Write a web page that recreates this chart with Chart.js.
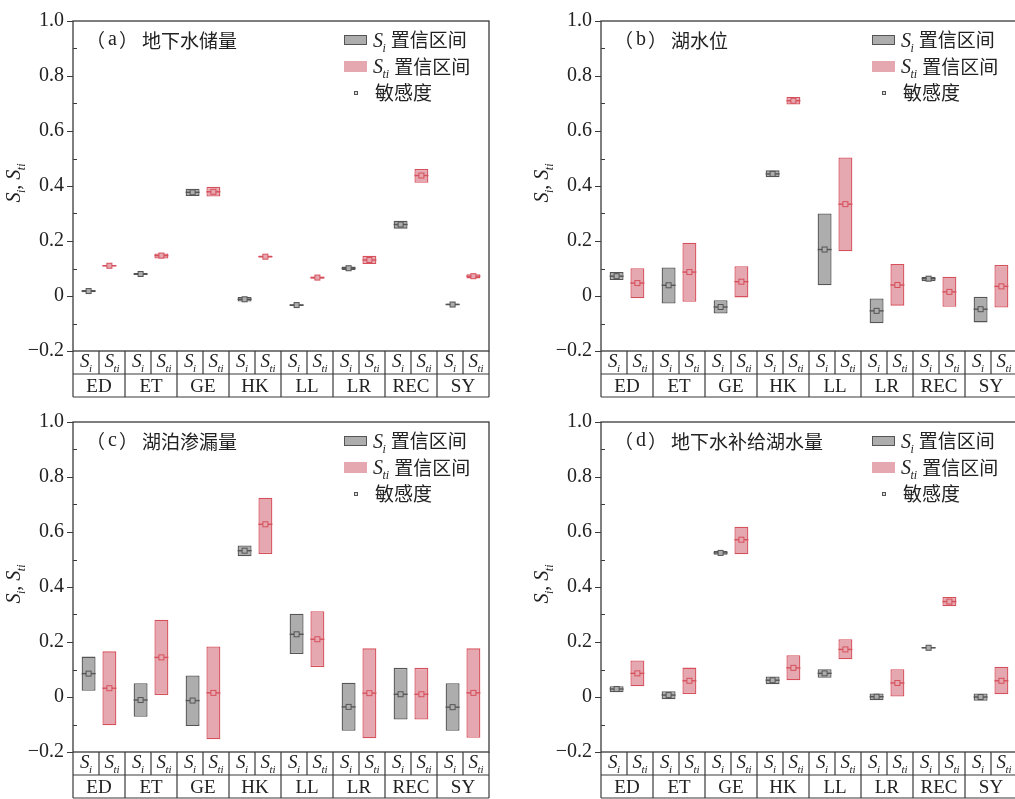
<!DOCTYPE html>
<html><head><meta charset="utf-8">
<script src="https://cdn.jsdelivr.net/npm/chart.js@4"></script>
<style>
html,body{margin:0;padding:0;background:#fff;overflow:hidden;width:1015px;height:799px;position:relative;}
canvas{position:absolute;}
</style></head><body>
<canvas id="ca" width="505" height="399" style="left:0;top:0"></canvas>
<canvas id="cb" width="505" height="399" style="left:528px;top:0"></canvas>
<canvas id="cc" width="505" height="399" style="left:0;top:401px"></canvas>
<canvas id="cd" width="505" height="399" style="left:528px;top:401px"></canvas>
<script>
// ---------------- data ----------------
const categories = ['ED','ET','GE','HK','LL','LR','REC','SY'];
const panelLetters = ['a','b','c','d'];
const panelNames = ['地下水储量','湖水位','湖泊渗漏量','地下水补给湖水量'];
const yMin = -0.2, yMax = 1.0, yStep = 0.1;

// (a) 地下水储量
const aSiLo   = [0.014, 0.076, 0.364, -0.020, -0.036, 0.095, 0.245, -0.034];
const aSiHi   = [0.022, 0.084, 0.390, -0.004, -0.030, 0.107, 0.274, -0.027];
const aSiMean = [0.018, 0.080, 0.377, -0.012, -0.033, 0.101, 0.260, -0.031];
const aStLo   = [0.107, 0.136, 0.362, 0.140, 0.063, 0.116, 0.412, 0.064];
const aStHi   = [0.113, 0.155, 0.397, 0.147, 0.071, 0.146, 0.462, 0.079];
const aStMean = [0.110, 0.147, 0.379, 0.143, 0.067, 0.131, 0.438, 0.072];

// (b) 湖水位
const bSiLo   = [0.058, -0.027, -0.064, 0.432, 0.039, -0.099, 0.054, -0.096];
const bSiHi   = [0.087, 0.104, -0.015, 0.457, 0.300, -0.009, 0.070, -0.003];
const bSiMean = [0.072, 0.039, -0.040, 0.444, 0.169, -0.054, 0.063, -0.048];
const bStLo   = [-0.008, -0.021, -0.005, 0.696, 0.163, -0.035, -0.039, -0.042];
const bStHi   = [0.101, 0.194, 0.108, 0.724, 0.504, 0.116, 0.070, 0.113];
const bStMean = [0.047, 0.087, 0.052, 0.710, 0.334, 0.040, 0.015, 0.035];

// (c) 湖泊渗漏量
const cSiLo   = [0.023, -0.072, -0.105, 0.512, 0.156, -0.123, -0.082, -0.123];
const cSiHi   = [0.147, 0.050, 0.078, 0.551, 0.303, 0.052, 0.106, 0.050];
const cSiMean = [0.085, -0.011, -0.013, 0.532, 0.228, -0.036, 0.010, -0.037];
const cStLo   = [-0.103, 0.007, -0.154, 0.520, 0.109, -0.150, -0.082, -0.148];
const cStHi   = [0.166, 0.281, 0.184, 0.725, 0.312, 0.177, 0.106, 0.177];
const cStMean = [0.032, 0.144, 0.015, 0.628, 0.210, 0.014, 0.010, 0.015];

// (d) 地下水补给湖水量
const dSiLo   = [0.017, -0.008, 0.517, 0.046, 0.070, -0.012, 0.176, -0.014];
const dSiHi   = [0.039, 0.021, 0.531, 0.075, 0.101, 0.013, 0.182, 0.013];
const dSiMean = [0.029, 0.007, 0.524, 0.061, 0.086, 0.001, 0.179, 0.000];
const dStLo   = [0.039, 0.011, 0.519, 0.061, 0.137, 0.002, 0.330, 0.010];
const dStHi   = [0.133, 0.107, 0.619, 0.152, 0.210, 0.101, 0.364, 0.110];
const dStMean = [0.086, 0.059, 0.572, 0.106, 0.173, 0.051, 0.347, 0.059];

// ---------------- style ----------------
const GRAY_FILL = '#adadad', GRAY_LINE = '#555555';
const RED_FILL = '#e6a8b0', RED_LINE = '#d6505c';
const AXIS = '#3a3a3a', TXT = '#222';
const SERIF = "'Liberation Serif', 'Times New Roman', serif";
const CJK = "'Noto Sans CJK SC', 'Noto Sans CJK JP', sans-serif";

function subText(ctx, x, y, base, sub, size, draw) {
  ctx.font = `italic ${size}px ${SERIF}`;
  const w1 = ctx.measureText(base).width;
  if (draw) ctx.fillText(base, x, y);
  const ss = Math.round(size * 0.6);
  ctx.font = `italic ${ss}px ${SERIF}`;
  const w2 = ctx.measureText(sub).width;
  if (draw) ctx.fillText(sub, x + w1 - 0.5, y + size * 0.24);
  return w1 - 0.5 + w2;
}

const decor = {
  id: 'decor',
  afterDatasetsDraw(chart) {
    const ctx = chart.ctx, ys = chart.scales.y;
    ctx.save();
    chart.data.datasets.forEach((ds, d) => {
      const meta = chart.getDatasetMeta(d);
      meta.data.forEach((el, i) => {
        const y = ys.getPixelForValue(ds.means[i]);
        const w = el.width;
        ctx.strokeStyle = ds.borderColor;
        ctx.lineWidth = 1.4;
        ctx.beginPath();
        ctx.moveTo(el.x - w / 2, y); ctx.lineTo(el.x + w / 2, y);
        ctx.stroke();
        ctx.lineWidth = 1;
        ctx.fillStyle = ds.backgroundColor;
        ctx.fillRect(el.x - 2.5, y - 2.5, 5, 5);
        ctx.strokeRect(el.x - 2.5, y - 2.5, 5, 5);
      });
    });
    ctx.restore();
  },
  afterDraw(chart) {
    const ctx = chart.ctx, ca = chart.chartArea, ys = chart.scales.y, xs = chart.scales.x;
    const opt = chart.options.plugins.decor;
    ctx.save();
    // frame
    ctx.strokeStyle = AXIS; ctx.lineWidth = 1.3;
    ctx.strokeRect(ca.left, ca.top, ca.right - ca.left, ca.bottom - ca.top);
    // y ticks
    ctx.lineWidth = 1;
    for (let k = Math.round(yMin / yStep); k <= Math.round(yMax / yStep); k++) {
      const y = Math.round(ys.getPixelForValue(k * yStep)) + 0.5;
      ctx.beginPath();
      if (k % 2 === 0) { ctx.moveTo(ca.left - 6, y); ctx.lineTo(ca.left, y); }
      else { ctx.moveTo(ca.left, y); ctx.lineTo(ca.left + 4, y); }
      ctx.stroke();
    }
    // category table
    const h1 = 23, h2 = 23, b = ca.bottom;
    ctx.lineWidth = 1.2;
    ctx.beginPath();
    ctx.moveTo(ca.left, b + h1); ctx.lineTo(ca.right, b + h1);
    ctx.moveTo(ca.left, b + h1 + h2); ctx.lineTo(ca.right, b + h1 + h2);
    ctx.moveTo(ca.left, b); ctx.lineTo(ca.left, b + h1 + h2);
    ctx.moveTo(ca.right, b); ctx.lineTo(ca.right, b + h1 + h2);
    const gw = (ca.right - ca.left) / categories.length;
    categories.forEach((c, i) => {
      const cx = xs.getPixelForValue(i);
      if (i > 0) { ctx.moveTo(cx - gw / 2, b); ctx.lineTo(cx - gw / 2, b + h1 + h2); }
      ctx.moveTo(cx, b); ctx.lineTo(cx, b + h1);
    });
    ctx.stroke();
    ctx.fillStyle = TXT;
    ctx.textBaseline = 'alphabetic';
    ctx.textAlign = 'left';
    categories.forEach((c, i) => {
      const cx = xs.getPixelForValue(i);
      [['i', cx - gw / 4], ['ti', cx + gw / 4]].forEach(([s, px]) => {
        const w = subText(ctx, 0, 0, 'S', s, 19, false);
        subText(ctx, px - w / 2, b + 16, 'S', s, 19, true);
      });
      ctx.font = `19px ${SERIF}`;
      ctx.textAlign = 'center';
      ctx.fillText(c, cx, b + h1 + 18);
      ctx.textAlign = 'left';
    });
    // y title (rotated)
    ctx.save();
    ctx.translate(ca.left - 53, (ca.top + ca.bottom) / 2 - 3);
    ctx.rotate(-Math.PI / 2);
    let tw = subText(ctx, 0, 0, 'S', 'i', 20, false);
    ctx.font = `italic 20px ${SERIF}`;
    const cw = ctx.measureText(', ').width;
    tw += cw + subText(ctx, 0, 0, 'S', 'ti', 20, false);
    let x0 = -tw / 2;
    x0 += subText(ctx, x0, 0, 'S', 'i', 20, true);
    ctx.font = `20px ${SERIF}`;
    ctx.fillText(',', x0, 0);
    x0 += cw;
    subText(ctx, x0, 0, 'S', 'ti', 20, true);
    ctx.restore();
    // panel title
    const L = ca.left, T = ca.top;
    ctx.textBaseline = 'middle';
    ctx.font = `19px ${CJK}`;
    let tx = L + 13;
    ctx.fillText('（', tx, T + 20); tx += ctx.measureText('（').width + 3;
    ctx.font = `20px ${SERIF}`;
    ctx.fillText(opt.letter, tx, T + 19); tx += ctx.measureText(opt.letter).width + 2;
    ctx.font = `19px ${CJK}`;
    ctx.fillText('）', tx, T + 20); tx += ctx.measureText('）').width + 4;
    ctx.fillText(opt.name, tx, T + 20);
    // legend
    const sx = L + 271;
    ctx.lineWidth = 1;
    ctx.fillStyle = GRAY_FILL; ctx.strokeStyle = GRAY_LINE;
    ctx.fillRect(sx, T + 14, 23, 10); ctx.strokeRect(sx + 0.5, T + 14.5, 22, 9);
    ctx.fillStyle = RED_FILL;
    ctx.fillRect(sx, T + 40, 23, 11);
    ctx.fillStyle = '#ddd'; ctx.strokeStyle = GRAY_LINE;
    ctx.fillRect(L + 281, T + 70, 4, 4); ctx.strokeRect(L + 281.5, T + 70.5, 3, 3);
    ctx.fillStyle = TXT;
    ctx.textBaseline = 'alphabetic';
    let lx = L + 300;
    lx += subText(ctx, lx, T + 26, 'S', 'i', 20, true) + 5;
    ctx.font = `19px ${CJK}`; ctx.textBaseline = 'middle';
    ctx.fillText('置信区间', lx, T + 19);
    ctx.textBaseline = 'alphabetic';
    lx = L + 300;
    lx += subText(ctx, lx, T + 52, 'S', 'ti', 20, true) + 5;
    ctx.font = `19px ${CJK}`; ctx.textBaseline = 'middle';
    ctx.fillText('置信区间', lx, T + 46);
    ctx.fillText('敏感度', L + 302, T + 72);
    ctx.restore();
  }
};

function tickLabel(v) {
  const r = Math.round(v * 10);
  if (r % 2 !== 0) return '';
  if (r === 0) return '0';
  return r < 0 ? '\u2212' + (Math.abs(r) / 10).toFixed(1) : (r / 10).toFixed(1);
}

function makeChart(id, idx, siLo, siHi, siMean, stLo, stHi, stMean) {
  return new Chart(document.getElementById(id), {
    type: 'bar',
    data: {
      labels: categories,
      datasets: [
        { label: 'Si', data: categories.map((c, i) => [siLo[i], siHi[i]]), means: siMean,
          backgroundColor: GRAY_FILL, borderColor: GRAY_LINE, borderWidth: 1.3, borderSkipped: false,
          categoryPercentage: 0.8, barPercentage: 0.67 },
        { label: 'Sti', data: categories.map((c, i) => [stLo[i], stHi[i]]), means: stMean,
          backgroundColor: RED_FILL, borderColor: RED_LINE, borderWidth: 1.3, borderSkipped: false,
          categoryPercentage: 0.8, barPercentage: 0.67 }
      ]
    },
    options: {
      responsive: false, animation: false, devicePixelRatio: 1,
      layout: { padding: { left: 0, right: 16, top: 16, bottom: 48 } },
      plugins: { legend: { display: false }, tooltip: { enabled: false },
        decor: { letter: panelLetters[idx], name: panelNames[idx] } },
      scales: {
        x: { display: false, offset: true },
        y: {
          min: yMin, max: yMax,
          afterFit(s) { s.width = 73; },
          grid: { display: false, drawTicks: false },
          border: { display: false },
          ticks: { stepSize: yStep, autoSkip: false, padding: 9, color: TXT,
            font: { family: SERIF, size: 20 }, callback: tickLabel }
        }
      }
    },
    plugins: [decor]
  });
}

makeChart('ca', 0, aSiLo, aSiHi, aSiMean, aStLo, aStHi, aStMean);
makeChart('cb', 1, bSiLo, bSiHi, bSiMean, bStLo, bStHi, bStMean);
makeChart('cc', 2, cSiLo, cSiHi, cSiMean, cStLo, cStHi, cStMean);
makeChart('cd', 3, dSiLo, dSiHi, dSiMean, dStLo, dStHi, dStMean);
</script>
</body></html>
